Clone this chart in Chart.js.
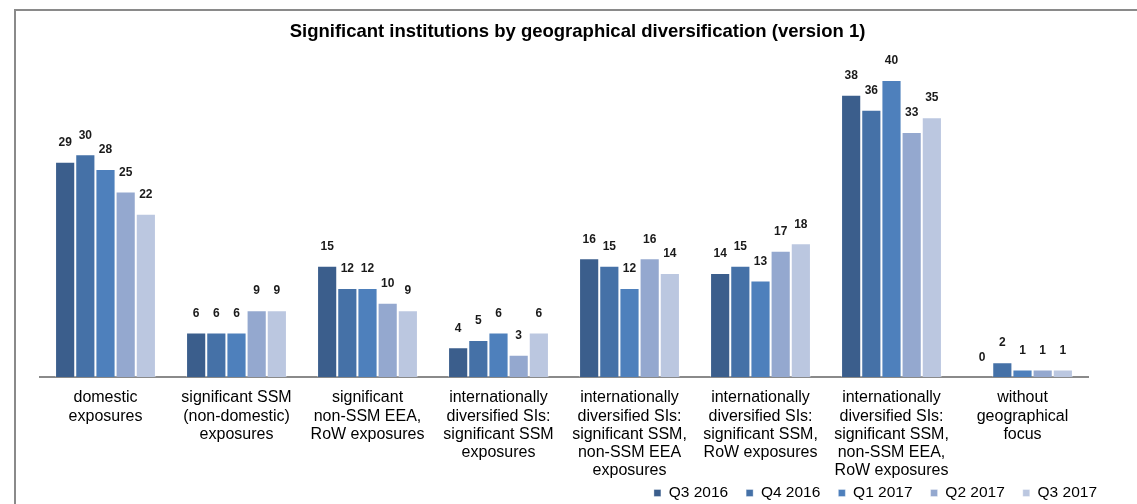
<!DOCTYPE html>
<html>
<head>
<meta charset="utf-8">
<script src="https://cdn.jsdelivr.net/npm/chart.js@4/dist/chart.umd.min.js"></script>
<style>
html,body{margin:0;padding:0;background:#fff;}
#wrap{position:relative;width:1137px;height:504px;overflow:hidden;}
#frame{position:absolute;left:14px;top:9px;width:1200px;height:600px;border-left:2px solid #8a8a8a;border-top:2px solid #8a8a8a;box-sizing:border-box;pointer-events:none;}
canvas{position:absolute;left:0;top:0;}
</style>
</head>
<body>
<div id="wrap">
<canvas id="c" width="1137" height="504"></canvas>
<div id="frame"></div>
</div>
<script>
const categories = [
  ["domestic","exposures"],
  ["significant SSM","(non-domestic)","exposures"],
  ["significant","non-SSM EEA,","RoW exposures"],
  ["internationally","diversified SIs:","significant SSM","exposures"],
  ["internationally","diversified SIs:","significant SSM,","non-SSM EEA","exposures"],
  ["internationally","diversified SIs:","significant SSM,","RoW exposures"],
  ["internationally","diversified SIs:","significant SSM,","non-SSM EEA,","RoW exposures"],
  ["without","geographical","focus"]
];
const seriesNames = ["Q3 2016","Q4 2016","Q1 2017","Q2 2017","Q3 2017"];
const q3_2016 = [29, 6, 15, 4, 16, 14, 38, 0];
const q4_2016 = [30, 6, 12, 5, 15, 15, 36, 2];
const q1_2017 = [28, 6, 12, 6, 12, 13, 40, 1];
const q2_2017 = [25, 9, 10, 3, 16, 17, 33, 1];
const q3_2017 = [22, 9, 9, 6, 14, 18, 35, 1];
const colors = ["#3B5E8C","#4571A7","#4E80BC","#94A8CF","#BBC7E0"];
const seriesValues = [q3_2016, q4_2016, q1_2017, q2_2017, q3_2017];

const FONT = "'Liberation Sans', Arial, sans-serif";

const valueLabels = {
  id: 'valueLabels',
  afterDatasetsDraw(chart) {
    const ctx = chart.ctx;
    ctx.save();
    ctx.font = "bold 12px " + FONT;
    ctx.fillStyle = "#1a1a1a";
    ctx.textAlign = "center";
    ctx.textBaseline = "middle";
    chart.data.datasets.forEach((ds, i) => {
      const meta = chart.getDatasetMeta(i);
      meta.data.forEach((bar, j) => {
        ctx.fillText(String(ds.data[j]), bar.x, bar.y - 19);
      });
    });
    ctx.restore();
  }
};

// move the legend row down to the reference position after layout
const legendShift = {
  id: 'legendShift',
  afterLayout(chart) {
    const lg = chart.legend;
    if (lg) {
      lg.top = 467.25;
      lg.bottom = 514;
      lg.height = lg.bottom - lg.top;
    }
  }
};

new Chart(document.getElementById('c'), {
  type: 'bar',
  data: {
    labels: categories,
    datasets: seriesNames.map((n, i) => ({
      label: n,
      data: seriesValues[i],
      backgroundColor: colors[i],
      borderColor: 'rgba(255,255,255,0.35)',
      borderWidth: 1,
      borderSkipped: 'bottom',
      categoryPercentage: 0.77,
      barPercentage: 1.0
    }))
  },
  options: {
    responsive: false,
    animation: false,
    devicePixelRatio: 1,
    layout: { padding: { left: 40, right: 22, top: 0, bottom: 0 } },
    plugins: {
      title: {
        display: true,
        text: 'Significant institutions by geographical diversification (version 1)',
        color: '#000',
        font: { family: FONT, size: 18.5, weight: 'bold', lineHeight: 1.2 },
        padding: { top: 21, bottom: 36.8 }
      },
      legend: {
        position: 'bottom',
        align: 'end',
        maxHeight: 20,
        labels: {
          color: '#000',
          font: { family: FONT, size: 15.5 },
          boxWidth: 7,
          boxHeight: 7,
          padding: 18
        }
      },
      tooltip: { enabled: false }
    },
    scales: {
      x: {
        grid: { display: false },
        border: { display: true, color: '#8a8a8a', width: 2 },
        ticks: {
          color: '#000',
          font: { family: FONT, size: 16, lineHeight: 1.134 },
          padding: 4,
          maxRotation: 0,
          autoSkip: false
        },
        afterFit: (s) => { s.height = 107; }
      },
      y: {
        display: false,
        min: 0,
        max: 40
      },
      y2: {
        position: 'right',
        display: true,
        grid: { display: false },
        border: { display: false },
        ticks: { display: false },
        afterFit: (s) => { s.width = 27; }
      }
    }
  },
  plugins: [valueLabels, legendShift]
});
</script>
</body>
</html>
